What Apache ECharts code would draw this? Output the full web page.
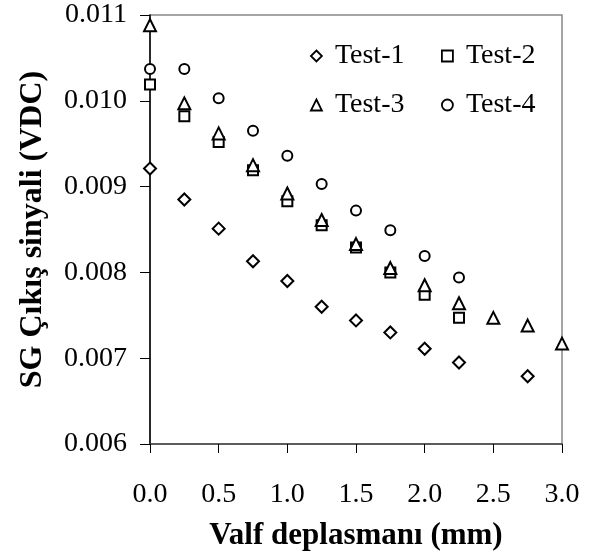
<!DOCTYPE html>
<html>
<head>
<meta charset="utf-8">
<script src="https://cdn.jsdelivr.net/npm/echarts@6/dist/echarts.min.js"></script>
<style>
html,body{margin:0;padding:0;background:#fff;}
#chart{width:597px;height:556px;}
</style>
</head>
<body>
<div id="chart"></div>
<script>
// Data
var xValues = [0, 0.25, 0.5, 0.75, 1.0, 1.25, 1.5, 1.75, 2.0, 2.25, 2.5, 2.75, 3.0];
var test1 = [0.00921, 0.00885, 0.00851, 0.00813, 0.00790, 0.00760, 0.00744, 0.00730, 0.00711, 0.00695, null, 0.00679, null];
var test2 = [0.01019, 0.00982, 0.00952, 0.00919, 0.00883, 0.00855, 0.00829, 0.00800, 0.00774, 0.00747, null, null, null];
var test3 = [0.01088, 0.00997, 0.00962, 0.00925, 0.00892, 0.00861, 0.00833, 0.00805, 0.00785, 0.00764, 0.00747, 0.00738, 0.00717];
var test4 = [0.01037, 0.01037, 0.01003, 0.00965, 0.00936, 0.00903, 0.00872, 0.00849, 0.00819, 0.00794, null, null, null];
var seriesNames = ['Test-1', 'Test-2', 'Test-3', 'Test-4'];
var xTitle = 'Valf deplasmanı (mm)';
var yTitle = 'SG Çıkış sinyali (VDC)';

function pairs(arr) {
  var out = [];
  for (var i = 0; i < arr.length; i++) {
    if (arr[i] !== null) out.push([xValues[i], arr[i]]);
  }
  return out;
}

var serif = '"Liberation Serif", "DejaVu Serif", serif';
var symbols = ['diamond', 'rect', 'triangle', 'circle'];
var sizes = [12, 10, 12, 10];
var allData = [test1, test2, test3, test4];

var series = seriesNames.map(function (name, i) {
  return {
    name: name,
    type: 'scatter',
    data: pairs(allData[i]),
    symbol: symbols[i],
    symbolSize: sizes[i],
    clip: false,
    itemStyle: { color: '#fff', borderColor: '#000', borderWidth: 2, opacity: 1 },
    emphasis: { disabled: true }
  };
});

var legendPos = [
  { left: 310, top: 42 },
  { left: 441, top: 42 },
  { left: 310, top: 91 },
  { left: 441, top: 91 }
];
var legends = seriesNames.map(function (name, i) {
  return {
    data: [name],
    left: legendPos[i].left,
    top: legendPos[i].top,
    padding: 0,
    itemWidth: 11,
    itemHeight: 11,
    selectedMode: false,
    itemStyle: { color: '#fff', borderColor: '#000', borderWidth: 1.8 },
    textStyle: { fontFamily: serif, fontSize: 28, color: '#000', padding: [0, 0, 0, 8] }
  };
});

var chart = echarts.init(document.getElementById('chart'), null, { renderer: 'canvas' });
chart.setOption({
  backgroundColor: '#fff',
  animation: false,
  grid: {
    left: 150, right: 35, top: 15, bottom: 111,
    show: true, borderColor: '#888', borderWidth: 1.5, backgroundColor: 'transparent'
  },
  legend: legends,
  xAxis: {
    type: 'value', min: 0, max: 3, interval: 0.5,
    name: xTitle, nameLocation: 'middle', nameGap: 76,
    nameTextStyle: { fontFamily: serif, fontSize: 31, fontWeight: 'bold', color: '#000' },
    axisLine: { show: true, lineStyle: { color: '#444', width: 1.5 } },
    axisTick: { show: true, inside: false, length: 9, lineStyle: { color: '#000', width: 1 } },
    axisLabel: { margin: 37, fontFamily: serif, fontSize: 28, color: '#000',
      formatter: function (v) { return v.toFixed(1); } },
    splitLine: { show: false }
  },
  yAxis: {
    type: 'value', min: 0.006, max: 0.011, interval: 0.001,
    name: yTitle, nameLocation: 'middle', nameGap: 101, nameRotate: 90,
    nameTextStyle: { fontFamily: serif, fontSize: 32, fontWeight: 'bold', color: '#000' },
    axisLine: { show: true, lineStyle: { color: '#000', width: 1.5 } },
    axisTick: { show: true, inside: false, length: 10, lineStyle: { color: '#000', width: 1 } },
    axisLabel: { margin: 23, fontFamily: serif, fontSize: 28, color: '#000',
      formatter: function (v) { return v.toFixed(3); } },
    splitLine: { show: false }
  },
  series: series
});
</script>
</body>
</html>
